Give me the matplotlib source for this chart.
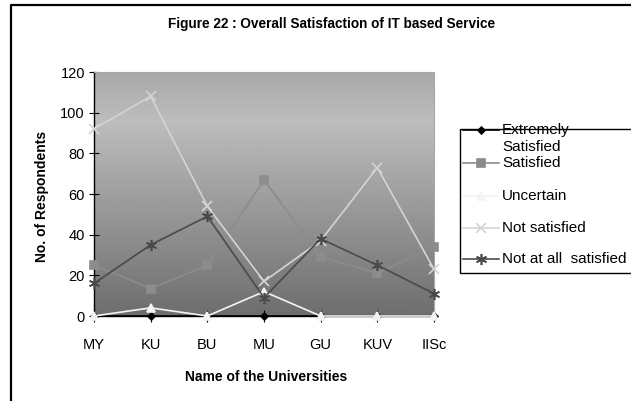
import numpy as np
import matplotlib.pyplot as plt
from matplotlib.lines import Line2D
from matplotlib.patches import Rectangle

plt.rcParams['font.family'] = ['Liberation Sans', 'DejaVu Sans']

universities = ["MY", "KU", "BU", "MU", "GU", "KUV", "IISc"]
extremely_satisfied = [0, 0, 0, 0, 0, 0, 0]
satisfied = [25, 13.5, 25, 67, 29, 21, 34]
uncertain = [0, 4, 0, 12, 0, 0, 0]
not_satisfied = [92, 108, 54, 17, 37, 73, 23]
not_at_all = [16, 35, 49, 9, 38, 25, 11]
legend_labels = ["Extremely\nSatisfied", "Satisfied", "Uncertain",
                 "Not satisfied", "Not at all  satisfied"]

W, H = 631, 401
fig = plt.figure(figsize=(W / 100, H / 100), dpi=100)

# plot area in pixels
x0, x1, y0, y1 = 94, 434, 72, 316
ax = fig.add_axes([x0 / W, 1 - y1 / H, (x1 - x0) / W, (y1 - y0) / H])

# gray gradient background
t = np.linspace(0, 1, 256)
top, mid, bot = 0.66, 0.74, 0.43
vals = np.where(t < 0.2, top + (mid - top) * t / 0.2,
                mid + (bot - mid) * (t - 0.2) / 0.8)
grad = np.repeat(vals[:, None], 2, axis=1)
ax.imshow(grad, cmap='gray', vmin=0, vmax=1, aspect='auto',
          extent=[0, 1, 0, 1], transform=ax.transAxes, zorder=0)

x = np.arange(len(universities))
series = [
    (extremely_satisfied, '#000000', 'D', 3.5, '#000000'),
    (satisfied, '#8c8c8c', 's', 6, '#8c8c8c'),
    (uncertain, '#f4f4f4', '^', 6, '#f4f4f4'),
    (not_satisfied, '#d4d4d4', 'x', 7, '#d4d4d4'),
    (not_at_all, '#4a4a4a', (6, 2, 0), 8, '#4a4a4a'),
]
for i, (vals_, col, mk, ms, mc) in enumerate(series):
    ax.plot(x, vals_, color=col, lw=1.2, marker=mk, ms=ms, mfc=mc, mec=mc,
            mew=1.2, clip_on=False, zorder=3 + i)

ax.set_xlim(0, 6)
ax.set_ylim(0, 120)
ax.set_yticks(range(0, 121, 20))
ax.set_xticks(x)
ax.set_xticklabels(universities)
ax.tick_params(axis='both', labelsize=10.5, color='black', length=8,
               direction='inout', width=0.8)
ax.tick_params(axis='x', pad=12)
ax.tick_params(axis='y', length=7, pad=3)
for s in ['top', 'right']:
    ax.spines[s].set_color('#a8a8a8')
for s in ['left', 'bottom']:
    ax.spines[s].set_color('black')
    ax.spines[s].set_linewidth(1.0)

fig.text(332 / W, 1 - 24 / H, "Figure 22 : Overall Satisfaction of IT based Service",
         ha='center', va='center', fontsize=9.8, fontweight='bold')
fig.text(266 / W, 1 - 377 / H, "Name of the Universities",
         ha='center', va='center', fontsize=10, fontweight='bold')
fig.text(42 / W, 1 - 196 / H, "No. of Respondents", rotation=90,
         ha='center', va='center', fontsize=10, fontweight='bold')

# overlay for legend and frame, pixel coordinates
ov = fig.add_axes([0, 0, 1, 1], zorder=5)
ov.set_xlim(0, W)
ov.set_ylim(H, 0)
ov.axis('off')
ov.plot([11, 11, W + 5], [H + 5, 4.5, 4.5], color='black', lw=1.6,
        clip_on=False)
ov.add_patch(Rectangle((460, 129), 180, 144, fill=False, ec='black', lw=1.0))
ys = [130, 163, 196, 228, 259]
for (vals_, col, mk, ms, mc), yy in zip(series, ys):
    ov.add_line(Line2D([463, 481, 499], [yy, yy, yy], color=col, lw=1.2,
                       marker=mk, ms=ms, mfc=mc, mec=mc, mew=1.2,
                       markevery=[1]))
for yy, lab in zip(ys, legend_labels):
    for k, part in enumerate(lab.split("\n")):
        ov.text(502, yy + k * 17, part, ha='left', va='center', fontsize=11)

fig.savefig("out.png", dpi=100)
